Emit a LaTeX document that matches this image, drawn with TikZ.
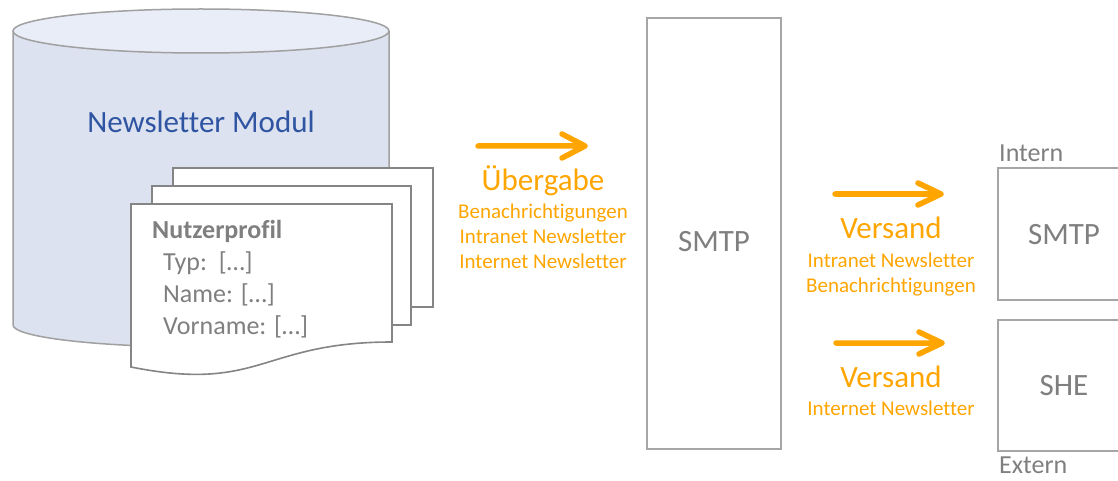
\documentclass[tikz,border=0pt]{standalone}
\usepackage{fontspec}
\setmainfont{Carlito}[Ligatures=NoCommon]
\definecolor{orng}{HTML}{FFA500}
\definecolor{txtgray}{HTML}{7F7F7F}
\definecolor{boxgray}{HTML}{A6A6A6}
\definecolor{docgray}{HTML}{858585}
\definecolor{cylbody}{HTML}{DCE2F0}
\definecolor{cyltop}{HTML}{E9EDF7}
\definecolor{cylline}{HTML}{A0A0A0}
\definecolor{modblue}{HTML}{2F55A2}
\tikzset{
  bigtxt/.style={font=\fontsize{31}{37}\selectfont, anchor=base, inner sep=0pt},
  smalltxt/.style={font=\fontsize{21}{25}\selectfont, anchor=base, inner sep=0pt, text=orng},
  doctxt/.style={font=\fontsize{26}{31}\selectfont, anchor=base west, inner sep=0pt, text=txtgray},
  lbltxt/.style={font=\fontsize{26}{31}\selectfont, anchor=base west, inner sep=0pt, text=txtgray},
  docpage/.style={draw=docgray, line width=1.6pt, fill=white},
  boxline/.style={draw=boxgray, line width=2pt, fill=white},
  orarrow/.style={draw=orng, line width=5.5pt, line cap=round, line join=round},
}
\begin{document}
\begin{tikzpicture}[x=1pt,y=-1pt]
\useasboundingbox (0,0) rectangle (1118,481);
\clip (0,0) rectangle (1118,481);
% cylinder
\path[fill=cylbody] (13,31) -- (13,325) arc[start angle=180, end angle=0, x radius=188, y radius=22] -- (389,31) -- cycle;
\draw[cylline, line width=1.5pt] (13,31) -- (13,325) arc[start angle=180, end angle=0, x radius=188, y radius=22] -- (389,31);
\draw[fill=cyltop, draw=cylline, line width=1.5pt] (201,31) ellipse [x radius=188, y radius=22];
\node[bigtxt, text=modblue] (modul) at (201,133) {Newsletter Modul};
% documents
\draw[docpage] (173,168) rectangle (433,307);
\draw[docpage] (152,186) rectangle (411,325);
\draw[docpage] (131,204) -- (392,204) -- (392,342)
  .. controls (261,342) and (261,393) .. (131,367) -- cycle;
\node[doctxt, font=\fontsize{26}{31}\selectfont\bfseries] (np) at (152,238) {Nutzerprofil};
\node[doctxt] (typ) at (163,270) {Typ:\ \ […]};
\node[doctxt] (name) at (163,302) {Name: […]};
\node[doctxt] (vname) at (163,334) {Vorname: […]};
% handover
\coordinate (a1s) at (478,146);
\coordinate (a1e) at (585,146);
\draw[orarrow] (a1s) -- (a1e) (a1e) ++(-23,-12) -- (a1e) -- ++(-23,12);
\node[bigtxt, text=orng] (ueb) at (543,190) {Übergabe};
\node[smalltxt] (u1) at (543,218) {Benachrichtigungen};
\node[smalltxt] (u2) at (543,243) {Intranet Newsletter};
\node[smalltxt] (u3) at (543,268) {Internet Newsletter};
% central SMTP
\draw[boxline] (647,18) rectangle (781,449);
\node[bigtxt, text=txtgray] (smtp) at (714,251) {SMTP};
% dispatch
\coordinate (a2s) at (835,194);
\coordinate (a2e) at (941,194);
\draw[orarrow] (a2s) -- (a2e) (a2e) ++(-23,-11) -- (a2e) -- ++(-23,11);
\node[bigtxt, text=orng] (v1) at (891,238) {Versand};
\node[smalltxt] (v1a) at (891,267) {Intranet Newsletter};
\node[smalltxt] (v1b) at (891,292) {Benachrichtigungen};
\coordinate (a3s) at (836,343);
\coordinate (a3e) at (942,343);
\draw[orarrow] (a3s) -- (a3e) (a3e) ++(-23,-11) -- (a3e) -- ++(-23,11);
\node[bigtxt, text=orng] (v2) at (891,387) {Versand};
\node[smalltxt] (v2a) at (891,415) {Internet Newsletter};
% right boxes
\draw[boxline] (998,168) rectangle (1135,300);
\draw[boxline] (998,320) rectangle (1135,451);
\node[bigtxt, text=txtgray] (smtp2) at (1064,244) {SMTP};
\node[bigtxt, text=txtgray] (she) at (1064,395) {SHE};
\node[lbltxt] (intern) at (999,162) {Intern};
\node[lbltxt] (extern) at (999,473) {Extern};
\end{tikzpicture}
\end{document}
